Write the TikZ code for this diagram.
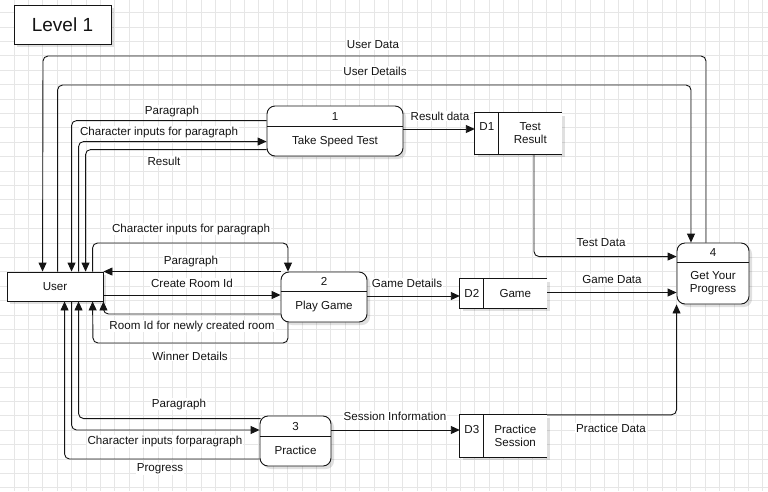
\documentclass[tikz,border=0pt]{standalone}
\usepackage{fontspec}
\setmainfont{Liberation Sans}
\usetikzlibrary{arrows.meta,calc,shadows}

\definecolor{gridc}{RGB}{230,230,230}
\definecolor{ink}{RGB}{20,20,20}

\begin{document}
\begin{tikzpicture}[x=1pt,y=-1pt,
  every node/.style={font=\fontsize{11.6}{13}\selectfont, text=ink},
  gridline/.style={draw=gridc, line width=1pt},
  softshadow/.style={drop shadow={shadow xshift=3pt, shadow yshift=-3pt, opacity=0.12, fill=black}},
  proc/.style={draw=ink, fill=white, rounded corners=8pt, line width=0.9pt, inner sep=0pt, softshadow},
  store/.style={fill=white, inner sep=0pt, softshadow},
  entity/.style={draw=ink, fill=white, line width=0.9pt, inner sep=0pt, softshadow},
  rule/.style={draw=ink, line width=0.9pt},
  flow/.style={draw=ink, line width=0.9pt, rounded corners=5pt, -{Triangle[length=9pt,width=8pt]}},
  lbl/.style={fill=white, inner sep=1pt},
]

% canvas and grid
\useasboundingbox (0,0) rectangle (768,491);
\fill[white] (0,0) rectangle (768,491);
\foreach \k in {0,...,54} {
  \draw[gridline] ({\k*14.4-0.3},0) -- ({\k*14.4-0.3},491);
}
\foreach \k in {-1,...,34} {
  \draw[gridline] (0,{\k*14.4+12.7}) -- (768,{\k*14.4+12.7});
}

% title
\node[entity, minimum width=97pt, minimum height=39pt, font=\fontsize{19}{22}\selectfont] (title) at (62.5,24.5) {Level 1};

% external entity
\node[entity, minimum width=96pt, minimum height=29pt] (user) at (55,286.5) {User};

% processes
\node[proc, minimum width=136pt, minimum height=50pt] (p1) at (335,131) {};
\draw[rule] ($(p1.north west)+(0,21)$) -- ($(p1.north east)+(0,21)$);
\node (p1n) at ($(p1.north)+(0,10.5)$) {1};
\node (p1t) at ($(p1.north)+(0,35.5)$) {Take Speed Test};

\node[proc, minimum width=86pt, minimum height=50pt] (p2) at (324,297) {};
\draw[rule] ($(p2.north west)+(0,20)$) -- ($(p2.north east)+(0,20)$);
\node (p2n) at ($(p2.north)+(0,10)$) {2};
\node (p2t) at ($(p2.north)+(0,35)$) {Play Game};

\node[proc, minimum width=71pt, minimum height=50pt] (p3) at (295.5,441) {};
\draw[rule] ($(p3.north west)+(0,21)$) -- ($(p3.north east)+(0,21)$);
\node (p3n) at ($(p3.north)+(0,10.5)$) {3};
\node (p3t) at ($(p3.north)+(0,35)$) {Practice};

\node[proc, minimum width=72pt, minimum height=61pt] (p4) at (713,273.5) {};
\draw[rule] ($(p4.north west)+(0,20)$) -- ($(p4.north east)+(0,20)$);
\node (p4n) at ($(p4.north)+(0,10)$) {4};
\node[align=center] (p4t) at ($(p4.north)+(0,40.5)$) {Get Your\\Progress};

% data stores
\node[store, minimum width=87pt, minimum height=41pt] (d1) at (518.5,133.5) {};
\draw[rule] (d1.north east) -- (d1.north west) -- (d1.south west) -- (d1.south east);
\draw[rule] ($(d1.north west)+(24,0)$) -- ($(d1.south west)+(24,0)$);
\node (d1n) at ($(d1.north west)+(12,14)$) {D1};
\node[align=center] (d1t) at ($(d1.north west)+(55.5,20)$) {Test\\Result};

\node[store, minimum width=87pt, minimum height=29pt] (d2) at (503.5,293.5) {};
\draw[rule] (d2.north east) -- (d2.north west) -- (d2.south west) -- (d2.south east);
\draw[rule] ($(d2.north west)+(24,0)$) -- ($(d2.south west)+(24,0)$);
\node (d2n) at ($(d2.west)+(12,0)$) {D2};
\node (d2t) at ($(d2.west)+(55.5,0)$) {Game};

\node[store, minimum width=87pt, minimum height=42pt] (d3) at (503.5,436) {};
\draw[rule] (d3.north east) -- (d3.north west) -- (d3.south west) -- (d3.south east);
\draw[rule] ($(d3.north west)+(24,0)$) -- ($(d3.south west)+(24,0)$);
\node (d3n) at ($(d3.north west)+(12,15)$) {D3};
\node[align=center] (d3t) at ($(d3.north west)+(55.5,21)$) {Practice\\Session};

% flows between user and progress
\draw[flow] ($(p4.north)+(-7,0)$) |- (43,56) -- ($(user.north west)+(36,0)$);
\draw[flow] ($(user.north west)+(51,0)$) |- (691,85) -- ($(p4.north)+(-22,0)$);

% flows of the speed test
\draw[flow] ($(p1.north west)+(0,15)$) -| ($(user.north west)+(65,0)$);
\draw[flow] ($(user.north west)+(72,0)$) |- ($(p1.north west)+(0,36)$);
\draw[flow] ($(p1.north west)+(0,44)$) -| ($(user.north west)+(79,0)$);
\draw[flow] ($(p1.east)+(0,-2)$) -- ($(d1.west)+(0,-4.5)$);
\draw[flow] ($(d1.south)+(15.5,0)$) |- ($(p4.north west)+(0,14)$);

% flows of the game
\draw[flow] ($(user.north west)+(86,0)$) |- (288,243) -- ($(p2.north)+(-36,0)$);
\draw[flow] (p2.north west) -- (user.north east);
\draw[flow] ($(user.east)+(0,8.5)$) -- ($(p2.west)+(0,-2)$);
\draw[flow] ($(p2.west)+(0,17)$) -| (user.south east);
\draw[flow] ($(p2.south)+(-36,0)$) |- (93,343) -- ($(user.south west)+(86,0)$);
\draw[flow] ($(p2.east)+(0,-1)$) -- ($(d2.west)+(0,2.5)$);
\draw[flow] ($(d2.east)+(0,-1)$) -- ($(p4.west)+(0,19)$);

% flows of the practice
\draw[flow] ($(p3.north west)+(1,3)$) -| ($(user.south west)+(72,0)$);
\draw[flow] ($(user.south west)+(65,0)$) |- ($(p3.west)+(0,-11)$);
\draw[flow] ($(p3.west)+(0,18)$) -| ($(user.south west)+(58,0)$);
\draw[flow] ($(p3.east)+(0,-11)$) -- ($(d3.west)+(0,-6)$);
\draw[flow] (d3.north east) -| (p4.south west);

% flow labels
\node[lbl] (lUD) at (373,45) {User Data};
\node[lbl] (lUDt) at (375,71) {User Details};
\node[lbl] (lP1a) at (172,111) {Paragraph};
\node[lbl] (lP1b) at (159,132) {Character inputs for paragraph};
\node[lbl] (lP1c) at (164,161) {Result};
\node[lbl] (lRD) at (440,116) {Result data};
\node[lbl] (lTD) at (601,243) {Test Data};
\node[lbl] (lP2a) at (191,229) {Character inputs for paragraph};
\node[lbl] (lP2b) at (191,261) {Paragraph};
\node[lbl] (lP2c) at (192,283) {Create Room Id};
\node[lbl] (lP2d) at (192,326) {Room Id for newly created room};
\node[lbl] (lP2e) at (190,356) {Winner Details};
\node[lbl] (lGD) at (407,283) {Game Details};
\node[lbl] (lGDa) at (612,279) {Game Data};
\node[lbl] (lP3a) at (179,404) {Paragraph};
\node[lbl] (lP3b) at (165,441) {Character inputs forparagraph};
\node[lbl] (lP3c) at (160,469) {Progress};
\node[lbl] (lSI) at (395,416) {Session Information};
\node[lbl] (lPD) at (611,428) {Practice Data};

\end{tikzpicture}
\end{document}
